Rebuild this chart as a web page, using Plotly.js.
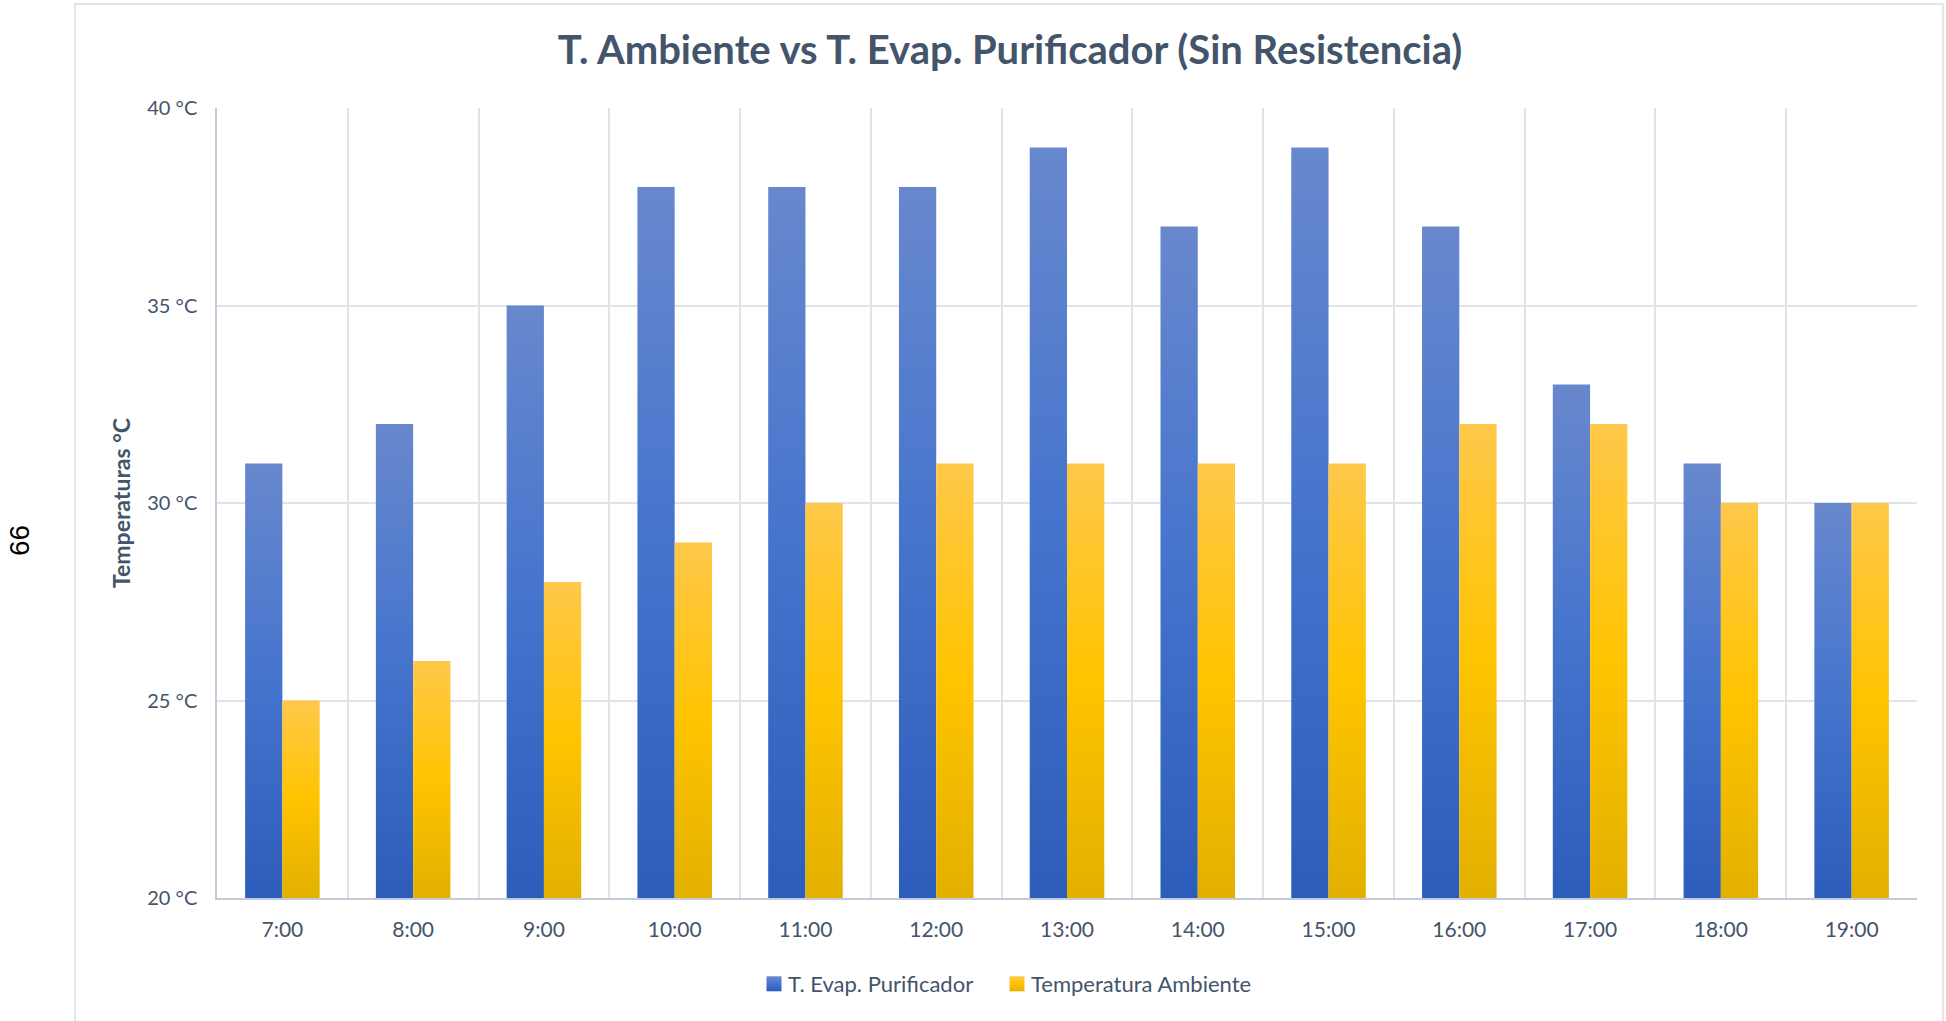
<!DOCTYPE html>
<html>
<head>
<meta charset="utf-8">
<script src="https://cdn.plot.ly/plotly-3.0.1.min.js"></script>
<style>
  html, body { margin: 0; padding: 0; background: #ffffff; }
  #chart { width: 1946px; height: 1021px; }
</style>
</head>
<body>
<div id="chart"></div>
<script>
// ---- data ----
const horas = ["7:00","8:00","9:00","10:00","11:00","12:00","13:00","14:00","15:00","16:00","17:00","18:00","19:00"];
const evapPurificador = [31, 32, 35, 38, 38, 38, 39, 37, 39, 37, 33, 31, 30];
const tempAmbiente   = [25, 26, 28, 29, 30, 31, 31, 31, 31, 32, 32, 30, 30];
const nombreEvap = "T. Evap. Purificador";
const nombreAmb = "Temperatura Ambiente";
const titulo = "T. Ambiente vs T. Evap. Purificador (Sin Resistencia)";
const tituloY = "Temperaturas °C";
const numeroPagina = "66";

const FONT = "Lato, 'Open Sans', sans-serif";
const TXT = "#44546a";
const GRID = "#dfe3ea";
const AXL = "#c3cad8";

const traces = [
  { type: "bar", name: nombreEvap, x: horas, y: evapPurificador,
    marker: { color: "#4472c4", line: { width: 0 } }, hoverinfo: "x+y" },
  { type: "bar", name: nombreAmb, x: horas, y: tempAmbiente,
    marker: { color: "#ffc000", line: { width: 0 } }, hoverinfo: "x+y" }
];

const L = 217, R = 1917, T = 108, B = 898, W = 1946, H = 1021;
const px2x = p => (p - L) / (R - L);
const py2y = p => (B - p) / (B - T);

const layout = {
  width: W, height: H,
  margin: { l: L, r: W - R, t: T, b: H - B, pad: 0 },
  paper_bgcolor: "#ffffff", plot_bgcolor: "#ffffff",
  font: { family: FONT, color: TXT },
  title: { text: "<b>" + titulo + "</b>", x: 1010 / W, xanchor: "center",
           y: 1 - 50 / H, yanchor: "middle", font: { size: 40, color: TXT, family: FONT } },
  barmode: "group", bargap: 0.43, bargroupgap: 0,
  xaxis: {
    type: "category", tickson: "boundaries", ticks: "", showgrid: true, gridcolor: GRID, gridwidth: 1.5,
    showline: true, linecolor: AXL, linewidth: 1.5, tickfont: { size: 21, color: TXT }, ticklabelstandoff: 12,
    fixedrange: true
  },
  yaxis: {
    range: [20, 40], dtick: 5, tick0: 20, ticksuffix: " °C", showgrid: true, gridcolor: GRID, gridwidth: 1.5,
    showline: true, linecolor: AXL, linewidth: 1.5, zeroline: false, ticks: "", tickfont: { size: 20, color: TXT },
    ticklabelstandoff: 14,
    title: { text: "<b>" + tituloY + "</b>", font: { size: 23, color: TXT }, standoff: 10 },
    fixedrange: true
  },
  showlegend: true,
  legend: { orientation: "h", x: px2x(991), xanchor: "center", y: py2y(984), yanchor: "middle",
            font: { size: 22, color: TXT }, traceorder: "normal", entrywidth: 198, entrywidthmode: "pixels",
            bgcolor: "rgba(0,0,0,0)" },
  shapes: [
    { type: "rect", xref: "paper", yref: "paper", x0: px2x(75), x1: px2x(1943), y0: py2y(1040), y1: py2y(4),
      line: { color: "#d9dde3", width: 1.5 }, fillcolor: "rgba(0,0,0,0)", layer: "below" }
  ],
  annotations: [
    { text: numeroPagina, xref: "paper", yref: "paper", x: px2x(19), xanchor: "center", y: py2y(541), yanchor: "middle",
      showarrow: false, textangle: -90,
      font: { family: "'Liberation Sans', Arial, sans-serif", size: 28, color: "#000000" } }
  ]
};

const STOPS = [
  [[0, "#6888cd"], [0.5, "#4574cd"], [1, "#2d5dba"]],
  [[0, "#ffc84a"], [0.5, "#ffc400"], [1, "#e2b000"]]
];

function addGradients(gd) {
  const svg = gd.querySelector("svg.main-svg");
  const ns = "http://www.w3.org/2000/svg";
  let defs = svg.querySelector("defs");
  if (!defs) { defs = document.createElementNS(ns, "defs"); svg.insertBefore(defs, svg.firstChild); }
  defs.querySelectorAll("linearGradient.bargrad").forEach(g => g.remove());
  const mk = (id, stops, user, y1, y2) => {
    const g = document.createElementNS(ns, "linearGradient");
    g.setAttribute("id", id); g.setAttribute("class", "bargrad");
    if (user) g.setAttribute("gradientUnits", "userSpaceOnUse");
    g.setAttribute("x1", "0"); g.setAttribute("y1", String(y1));
    g.setAttribute("x2", "0"); g.setAttribute("y2", String(y2));
    stops.forEach(([o, c]) => {
      const s = document.createElementNS(ns, "stop");
      s.setAttribute("offset", o); s.setAttribute("stop-color", c); g.appendChild(s);
    });
    defs.appendChild(g);
  };
  const ylen = gd._fullLayout.yaxis._length;
  gd.querySelectorAll("g.barlayer g.trace.bars").forEach((t, i) => {
    t.querySelectorAll("g.point path").forEach((p, j) => {
      const bb = p.getBBox();
      const id = "bg" + i + "_" + j;
      mk(id, STOPS[i], true, bb.y, Math.min(bb.y + bb.height, ylen));
      p.style.fill = "url(#" + id + ")";
    });
  });
  gd.querySelectorAll("g.legend g.traces").forEach((t, i) => {
    const id = "lg" + i;
    mk(id, STOPS[i], false, 0, 1);
    t.querySelectorAll("g.legendpoints path").forEach(p => {
      p.style.fill = "url(#" + id + ")";
      p.setAttribute("transform", "translate(26,0) scale(1.25)");
    });
  });
  // let the last legend entry's text show in full
  gd.querySelectorAll("g.legend [clip-path]").forEach(e => e.removeAttribute("clip-path"));
}

Plotly.newPlot("chart", traces, layout, { displayModeBar: false, responsive: false }).then(gd => {
  addGradients(gd);
  gd.on("plotly_afterplot", () => addGradients(gd));
});
</script>
</body>
</html>
